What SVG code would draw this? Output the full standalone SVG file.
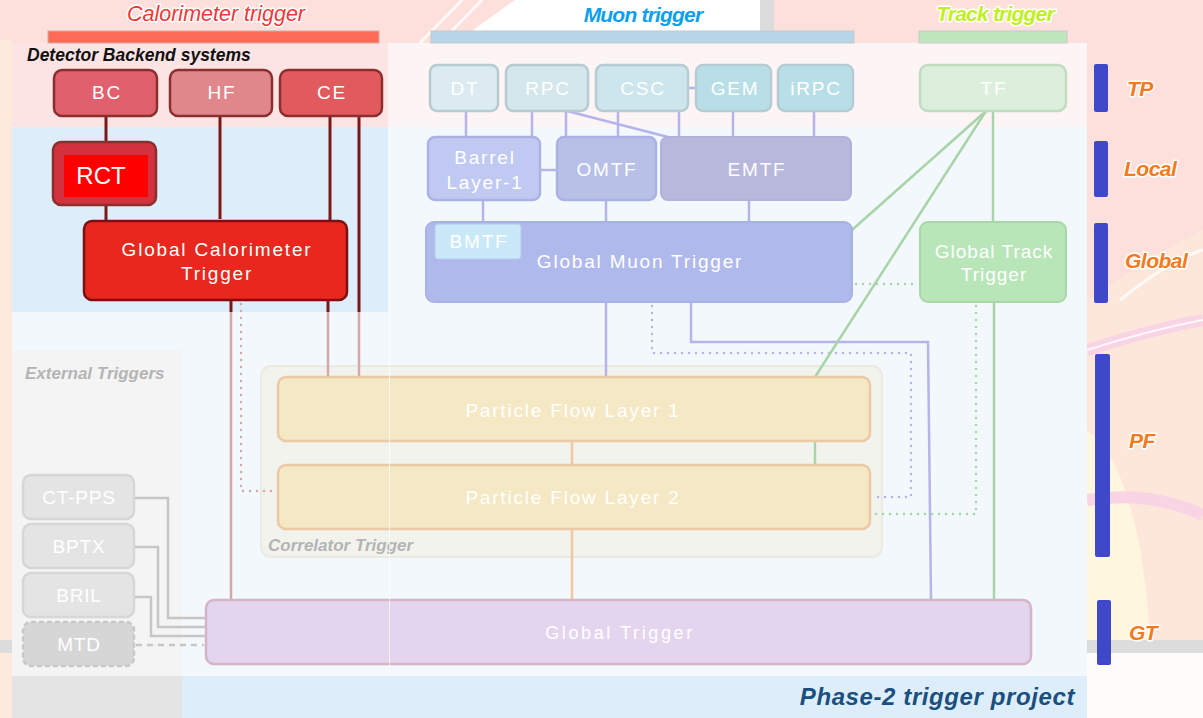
<svg xmlns="http://www.w3.org/2000/svg" width="1203" height="718" viewBox="0 0 1203 718">
<defs>
<style>
.nt{font-family:"Liberation Sans",Arial,sans-serif;font-size:19px;fill:#ffffff;text-anchor:middle;letter-spacing:1.8px}
.hdr{font-family:"Liberation Sans",Arial,sans-serif;font-style:italic;font-size:21.5px;text-anchor:middle;stroke:#ffffff;stroke-width:3px;paint-order:stroke;stroke-linejoin:round}
.lvl{font-family:"Liberation Sans",Arial,sans-serif;font-style:italic;font-weight:bold;font-size:21px;fill:#f47a20;stroke:#ffffff;stroke-width:3px;paint-order:stroke;stroke-linejoin:round;letter-spacing:-0.5px}
.grp{font-family:"Liberation Sans",Arial,sans-serif;font-style:italic;font-weight:bold;font-size:17px;fill:#b4b4b4}
.bar{fill:#3f48c8}
.cal{stroke:#8a2e2e;stroke-width:2.5}
.mu1{stroke:#b6ccd2;stroke-width:2.5}
.mu2{stroke:#aab2e4;stroke-width:2.5}
.trk{stroke:#c2dcc2;stroke-width:2.5}
.pf{fill:#f5e8c4;stroke:#ebc8a6;stroke-width:2.5}
.ext{fill:#e4e4e4;stroke:#d6d6d6;stroke-width:2.5}
.c-cal{stroke:#7a1818;stroke-width:3;fill:none}
.c-calf{stroke:#d4a8a8;stroke-width:2.5;fill:none}
.c-mu{stroke:#b4b4ea;stroke-width:2.5;fill:none}
.c-trk{stroke:#a8d4a8;stroke-width:2.5;fill:none}
.c-pf{stroke:#f0c8a0;stroke-width:2.5;fill:none}
.c-ext{stroke:#c6c6c6;stroke-width:2.5;fill:none}
.dot{stroke-dasharray:0 7;stroke-linecap:round}
</style>
</defs>

<!-- background -->
<g id="background">
<rect x="0" y="0" width="1203" height="718" fill="#fde0dc"/>
<path d="M1087 300 Q1160 250 1203 230 L1203 718 L1087 718 Z" fill="#fde6da"/>
<path d="M1087 430 Q1140 470 1150 640 L1087 640 Z" fill="#fef6de"/>
<path d="M1087 350 Q1150 330 1203 320" stroke="#f8d4e4" stroke-width="12" fill="none"/>
<path d="M1087 350 Q1150 330 1203 320" stroke="#ffffff" stroke-width="2" fill="none" opacity="0.8"/>
<path d="M1087 500 Q1150 490 1203 515" stroke="#f8d4e4" stroke-width="12" fill="none"/>
<path d="M1120 300 Q1170 260 1203 250" stroke="#ffffff" stroke-width="3" fill="none" opacity="0.8"/>
<rect x="1087" y="640" width="116" height="13" fill="#dcdcdc"/>
<rect x="1087" y="653" width="116" height="65" fill="#fefcfa"/>
<rect x="0" y="40" width="12" height="678" fill="#fdeadc"/>
<rect x="0" y="640" width="12" height="13" fill="#dcdcdc"/>
<polygon points="455,43 515,0 760,0 760,43" fill="#ffffff"/>
<rect x="760" y="0" width="14" height="43" fill="#dcdcdc"/>
<path d="M420 43 L462 0 M440 43 L482 0" stroke="#ffffff" stroke-width="3" opacity="0.8"/>
</g>

<!-- panels -->
<g id="panels">
<rect x="12" y="43" width="1075" height="675" fill="#f3f8fd"/>
<rect x="12" y="43" width="1075" height="84" fill="#fdf5f5"/>
<rect x="12" y="43" width="376" height="84" fill="#fde4e4"/>
<rect x="12" y="127" width="376" height="185" fill="#ddeefa"/>
<rect x="12" y="350" width="170" height="326" fill="#f4f4f4"/>
<rect x="12" y="676" width="170" height="42" fill="#e4e4e4"/>
<rect x="182" y="676" width="905" height="42" fill="#ddeefa"/>
<text x="27" y="61" style="font-family:'Liberation Sans',Arial,sans-serif;font-style:italic;font-weight:bold;font-size:17.5px;fill:#111111">Detector Backend systems</text>
<text x="25" y="379" class="grp">External Triggers</text>
<text x="1075" y="705" text-anchor="end" style="font-family:'Liberation Sans',Arial,sans-serif;font-style:italic;font-weight:bold;font-size:24px;letter-spacing:0.6px;fill:#1a4f80">Phase-2 trigger project</text>
</g>

<!-- headers -->
<g id="headers">
<text x="216" y="21" class="hdr" fill="#f03838">Calorimeter trigger</text>
<rect x="48" y="31" width="331" height="12" fill="#fd6a55" stroke="#d8a8a8" stroke-width="1"/>
<text x="643" y="22" class="hdr" fill="#0aa0ee" font-weight="bold" style="font-size:21px;letter-spacing:-0.8px">Muon trigger</text>
<rect x="431" y="31" width="423" height="12" fill="#b8d4e8" stroke="#c8c8c8" stroke-width="1"/>
<text x="995" y="21" class="hdr" fill="#c0f020" font-weight="bold" style="font-size:21px;letter-spacing:-0.8px">Track trigger</text>
<rect x="919" y="31" width="148" height="12" fill="#bfe6bf" stroke="#c8c8c8" stroke-width="1"/>
</g>

<!-- level bars -->
<g id="levels">
<rect class="bar" x="1094" y="64" width="14" height="48" rx="2"/>
<text class="lvl" x="1127" y="96">TP</text>
<rect class="bar" x="1094" y="141" width="14" height="56" rx="2"/>
<text class="lvl" x="1124" y="176">Local</text>
<rect class="bar" x="1094" y="223" width="14" height="80" rx="2"/>
<text class="lvl" x="1125" y="268">Global</text>
<rect class="bar" x="1095" y="354" width="15" height="203" rx="2"/>
<text class="lvl" x="1129" y="448">PF</text>
<rect class="bar" x="1097" y="600" width="14" height="65" rx="2"/>
<text class="lvl" x="1129" y="640">GT</text>
</g>

<g id="node-correlator">
<rect x="261" y="366" width="621" height="191" rx="10" fill="#f3f3ee" stroke="#ebeae2" stroke-width="2"/>
<text x="268" y="551" class="grp">Correlator Trigger</text>
</g>

<!-- connectors -->
<g id="connectors">
<!-- calorimeter -->
<line class="c-cal" x1="106" y1="116" x2="106" y2="141"/>
<line class="c-cal" x1="106" y1="205" x2="106" y2="221"/>
<line class="c-cal" x1="220" y1="116" x2="220" y2="219"/>
<line class="c-cal" x1="330" y1="116" x2="330" y2="221"/>
<line class="c-cal" x1="359" y1="116" x2="359" y2="312"/>
<line class="c-calf" x1="359" y1="312" x2="359" y2="377"/>
<line class="c-cal" x1="328" y1="300" x2="328" y2="312"/>
<line class="c-calf" x1="328" y1="312" x2="328" y2="377"/>
<line class="c-cal" x1="231" y1="300" x2="231" y2="312"/>
<line class="c-calf" x1="231" y1="312" x2="231" y2="600"/>
<path class="c-calf dot" d="M241 304 L241 491 L276 491" stroke="#c89494"/>
<!-- muon -->
<line class="c-mu" x1="466" y1="111" x2="466" y2="137"/>
<line class="c-mu" x1="532" y1="111" x2="532" y2="137"/>
<line class="c-mu" x1="566" y1="111" x2="566" y2="137"/>
<line class="c-mu" x1="567" y1="111" x2="668" y2="137"/>
<line class="c-mu" x1="618" y1="111" x2="618" y2="137"/>
<line class="c-mu" x1="679" y1="111" x2="679" y2="137"/>
<line class="c-mu" x1="733" y1="111" x2="733" y2="137"/>
<line class="c-mu" x1="814" y1="111" x2="814" y2="137"/>
<line class="c-mu" x1="688" y1="88" x2="696" y2="88"/>
<line class="c-mu" x1="540" y1="170" x2="557" y2="170"/>
<line class="c-mu" x1="483" y1="200" x2="483" y2="222"/>
<line class="c-mu" x1="606" y1="200" x2="606" y2="222"/>
<line class="c-mu" x1="749" y1="200" x2="749" y2="222"/>
<line class="c-mu" x1="606" y1="302" x2="606" y2="377"/>
<path class="c-mu" d="M691 302 L691 342 L928 342 L931 600"/>
<path class="c-mu dot" d="M652 306 L652 353 L911 353 L911 497 L874 497"/>
<!-- track -->
<line class="c-trk" x1="993" y1="111" x2="993" y2="222"/>
<line class="c-trk" x1="986" y1="111" x2="852" y2="230"/>
<line class="c-trk" x1="986" y1="111" x2="815" y2="377"/>
<line class="c-trk" x1="815" y1="441" x2="815" y2="465"/>
<line class="c-trk" x1="994" y1="302" x2="994" y2="600"/>
<path class="c-trk dot" d="M856 284 L918 284"/>
<path class="c-trk dot" d="M976 306 L976 514 L874 514"/>
<!-- particle flow -->
<line class="c-pf" x1="572" y1="441" x2="572" y2="465"/>
<line class="c-pf" x1="572" y1="529" x2="572" y2="600"/>
<!-- external -->
<path class="c-ext" d="M134 498 L168 498 L168 618 L206 618"/>
<path class="c-ext" d="M134 547 L158 547 L158 627 L206 627"/>
<path class="c-ext" d="M134 597 L151 597 L151 636 L206 636"/>
<path class="c-ext" d="M136 645 L204 645" stroke-dasharray="6 5"/>
</g>

<!-- calorimeter nodes -->
<g id="node-bc"><rect class="cal" x="54" y="70" width="103" height="46" rx="8" fill="#e0606e"/><text class="nt" x="107" y="99">BC</text></g>
<g id="node-hf"><rect class="cal" x="170" y="70" width="102" height="46" rx="8" fill="#e0878c"/><text class="nt" x="222" y="99">HF</text></g>
<g id="node-ce"><rect class="cal" x="280" y="70" width="102" height="46" rx="8" fill="#e05a5e"/><text class="nt" x="332" y="99">CE</text></g>
<g id="node-rct"><rect class="cal" x="53" y="142" width="103" height="63" rx="8" fill="#d2323e"/><rect x="64" y="155" width="84" height="42" fill="#ff0000"/><text class="nt" x="101" y="184" style="font-size:24px;letter-spacing:0">RCT</text></g>
<g id="node-gct"><rect x="84" y="221" width="263" height="79" rx="8" fill="#e8281e" stroke="#7a1010" stroke-width="2.5"/><text class="nt" x="217" y="256">Global Calorimeter</text><text class="nt" x="217" y="280">Trigger</text></g>

<!-- muon nodes -->
<g id="node-dt"><rect class="mu1" x="430" y="65" width="68" height="46" rx="7" fill="#dcebf1"/><text class="nt" x="465" y="95">DT</text></g>
<g id="node-rpc"><rect class="mu1" x="506" y="65" width="82" height="46" rx="7" fill="#d4e7ed"/><text class="nt" x="548" y="95">RPC</text></g>
<g id="node-csc"><rect class="mu1" x="596" y="65" width="92" height="46" rx="7" fill="#cde5ed"/><text class="nt" x="643" y="95">CSC</text></g>
<g id="node-gem"><rect class="mu1" x="696" y="65" width="75" height="46" rx="7" fill="#b8dfe8"/><text class="nt" x="735" y="95">GEM</text></g>
<g id="node-irpc"><rect class="mu1" x="778" y="65" width="75" height="46" rx="7" fill="#b8dfe8"/><text class="nt" x="816" y="95">iRPC</text></g>
<g id="node-barrel"><rect class="mu2" x="428" y="137" width="112" height="63" rx="7" fill="#c0c9f2"/><text class="nt" x="485" y="164">Barrel</text><text class="nt" x="485" y="189">Layer-1</text></g>
<g id="node-omtf"><rect class="mu2" x="557" y="137" width="99" height="63" rx="7" fill="#b8c0e8"/><text class="nt" x="607" y="176">OMTF</text></g>
<g id="node-emtf"><rect x="661" y="137" width="190" height="63" rx="7" fill="#b8b8dc" stroke="#b0b2dc" stroke-width="2"/><text class="nt" x="757" y="176">EMTF</text></g>
<g id="node-gmt"><rect x="426" y="222" width="426" height="80" rx="8" fill="#b0b9ec" stroke="#a8b0e8" stroke-width="2"/><rect x="435" y="224" width="86" height="35" rx="3" fill="#c9e9f9" stroke="#b8c8ee" stroke-width="1"/><text class="nt" x="479" y="248">BMTF</text><text class="nt" x="640" y="268">Global Muon Trigger</text></g>

<!-- track nodes -->
<g id="node-tf"><rect class="trk" x="920" y="65" width="146" height="46" rx="8" fill="#dcefdc"/><text class="nt" x="994" y="95">TF</text></g>
<g id="node-gtt"><rect x="920" y="222" width="146" height="80" rx="8" fill="#b8e6b8" stroke="#a8d8a8" stroke-width="2"/><text class="nt" x="994" y="258" style="letter-spacing:1px">Global Track</text><text class="nt" x="994" y="281" style="letter-spacing:1px">Trigger</text></g>

<!-- particle flow -->
<g id="node-pf1"><rect class="pf" x="278" y="377" width="592" height="64" rx="8"/><text class="nt" x="573" y="417">Particle Flow Layer 1</text></g>
<g id="node-pf2"><rect class="pf" x="278" y="465" width="592" height="64" rx="8"/><text class="nt" x="573" y="504">Particle Flow Layer 2</text></g>

<!-- global trigger -->
<g id="node-gt"><rect x="206" y="600" width="825" height="64" rx="8" fill="#e4d5ee" stroke="#d6b4c8" stroke-width="2.5"/><text class="nt" x="620" y="639" style="font-size:18px;letter-spacing:2.6px">Global Trigger</text></g>

<!-- external -->
<g id="node-ctpps"><rect class="ext" x="23" y="475" width="111" height="44" rx="8"/><text class="nt" x="79" y="504" style="letter-spacing:0.8px">CT-PPS</text></g>
<g id="node-bptx"><rect class="ext" x="23" y="524" width="111" height="44" rx="8"/><text class="nt" x="79" y="553" style="letter-spacing:0.8px">BPTX</text></g>
<g id="node-bril"><rect class="ext" x="23" y="573" width="111" height="44" rx="8"/><text class="nt" x="79" y="602" style="letter-spacing:0.8px">BRIL</text></g>
<g id="node-mtd"><rect x="23" y="622" width="111" height="44" rx="8" fill="#d6d6d6" stroke="#c8c8c8" stroke-width="2.5" stroke-dasharray="5 3"/><text class="nt" x="79" y="651" style="letter-spacing:0.8px">MTD</text></g>

<line x1="389.5" y1="312" x2="389.5" y2="676" stroke="#ffffff" stroke-width="1" opacity="0.7"/>
</svg>
